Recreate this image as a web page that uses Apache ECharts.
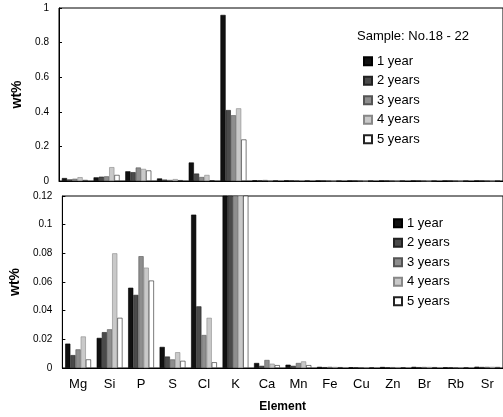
<!DOCTYPE html>
<html><head><meta charset="utf-8">
<script src="https://cdn.jsdelivr.net/npm/echarts@6/dist/echarts.min.js"></script>
<style>html,body{margin:0;padding:0;background:#fff}#c{width:503px;height:417px}</style>
</head><body><div id="c"></div>
<script>
const categories = ['Mg','Si','P','S','Cl','K','Ca','Mn','Fe','Cu','Zn','Br','Rb','Sr'];
const seriesNames = ['1 year','2 years','3 years','4 years','5 years'];
const year1 = [0.017,0.021,0.056,0.0147,0.107,0.96,0.0035,0.0023,0.0008,0.0005,0.0007,0.0008,0.0004,0.0009];
const year2 = [0.009,0.025,0.051,0.008,0.043,0.41,0.0015,0.0015,0.0006,0.0004,0.0005,0.0006,0.0004,0.0007];
const year3 = [0.013,0.027,0.078,0.006,0.023,0.38,0.0056,0.0035,0.0008,0.0005,0.0006,0.0007,0.0004,0.0008];
const year4 = [0.022,0.080,0.070,0.011,0.035,0.42,0.003,0.0046,0.0007,0.0005,0.0006,0.0007,0.0005,0.0008];
const year5 = [0.006,0.035,0.061,0.005,0.004,0.24,0.002,0.002,0.0006,0.0004,0.0005,0.0006,0.0004,0.0007];
const topTicks = [0,0.2,0.4,0.6,0.8,1];
const bottomTicks = [0,0.02,0.04,0.06,0.08,0.1,0.12];
const values = [year1,year2,year3,year4,year5];

const fills = ['#111111','#4a4a4a','#8e8e8e','#c9c9c9','#ffffff'];
const borders = ['#000','#222','#555','#888','#222'];

const chart = echarts.init(document.getElementById('c'));
const series = [];
for (let g = 0; g < 2; g++) {
  seriesNames.forEach((n, i) => {
    series.push({
      type: 'bar', name: n, xAxisIndex: g, yAxisIndex: g,
      data: values[i], barGap: '0%', barCategoryGap: '18%', clip: true,
      itemStyle: { color: fills[i], borderColor: borders[i], borderWidth: 0.6 }
    });
  });
}
const legendCommon = {
  orient: 'vertical', itemWidth: 8, itemHeight: 8, itemGap: 5,
  icon: 'rect', data: seriesNames,
  textStyle: { fontFamily: 'Liberation Sans', fontSize: 13, color: '#000', lineHeight: 14.5 },
  selectedMode: false
};
chart.setOption({
  animation: false,
  textStyle: { fontFamily: 'Liberation Sans' },
  title: { text: 'Sample: No.18 - 22', left: 352, top: 25,
    textStyle: { fontFamily: 'Liberation Sans', fontSize: 13, fontWeight: 'normal', color: '#000' } },
  legend: [
    Object.assign({ left: 358, top: 49 }, legendCommon),
    Object.assign({ left: 388, top: 211 }, legendCommon)
  ],
  grid: [
    { left: 59, top: 8, width: 447, height: 173, show: true, borderColor: '#000', borderWidth: 1 },
    { left: 59, top: 196, width: 447, height: 172, show: true, borderColor: '#000', borderWidth: 1 }
  ],
  xAxis: [0,1].map(g => ({
    type: 'category', gridIndex: g, data: categories,
    axisLine: { lineStyle: { color: '#000', width: 1 } },
    axisTick: { show: false },
    axisLabel: { show: g === 1, fontFamily: 'Liberation Sans', fontSize: 13, color: '#000', margin: 10 },
    name: g === 1 ? 'Element' : '', nameLocation: 'middle', nameGap: 33,
    nameTextStyle: { fontFamily: 'Liberation Sans', fontSize: 12, fontWeight: 'bold', color: '#000' }
  })),
  yAxis: [
    { type: 'value', gridIndex: 0, min: topTicks[0], max: topTicks[topTicks.length-1], interval: 0.2 },
    { type: 'value', gridIndex: 1, min: bottomTicks[0], max: bottomTicks[bottomTicks.length-1], interval: 0.02 }
  ].map(a => Object.assign(a, {
    axisLine: { show: true, lineStyle: { color: '#000', width: 1 } },
    axisTick: { show: true, inside: true, length: 3, lineStyle: { color: '#000' } },
    splitLine: { show: false },
    axisLabel: { fontFamily: 'Liberation Sans', fontSize: 10, color: '#000', margin: 10 },
    name: 'wt%', nameLocation: 'middle', nameRotate: 90, nameGap: 33,
    nameTextStyle: { fontFamily: 'Liberation Sans', fontSize: 14, fontWeight: 'bold', color: '#000' }
  })),
  series: series
});
</script></body></html>
